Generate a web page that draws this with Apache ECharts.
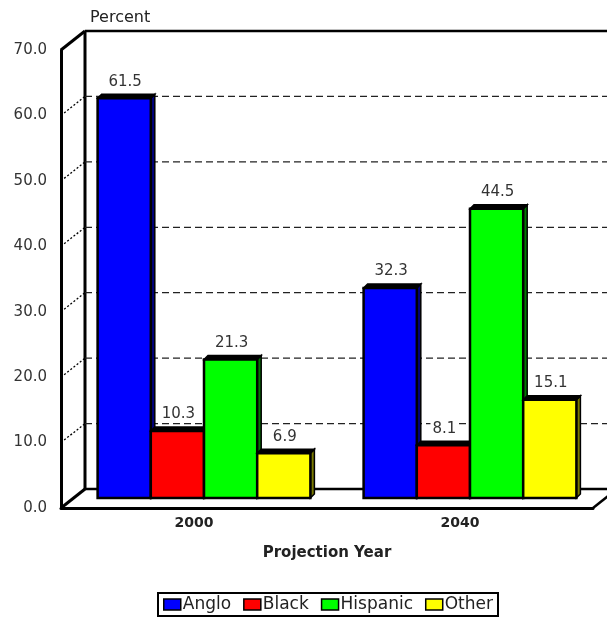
<!DOCTYPE html>
<html>
<head>
<meta charset="utf-8">
<script src="https://cdn.jsdelivr.net/npm/echarts@6/dist/echarts.min.js"></script>
<style>
  html, body { margin: 0; padding: 0; background: #fff; }
  #chart { width: 607px; height: 620px; }
</style>
</head>
<body>
<div id="chart"></div>
<script>
// Population share by group, projection years
const categories = ['2000', '2040'];
const anglo = [61.5, 32.3];
const black = [10.3, 8.1];
const hispanic = [21.3, 44.5];
const other = [6.9, 15.1];
const yTicks = [0, 10, 20, 30, 40, 50, 60, 70];

const seriesNames = ['Anglo', 'Black', 'Hispanic', 'Other'];
const seriesValues = [anglo, black, hispanic, other];
const seriesColors = ['#0000ff', '#ff0000', '#00ff00', '#ffff00'];
const sideColors = ['#00007a', '#7a0000', '#007a00', '#7a7a00'];

const FONT = 'DejaVu Sans, Liberation Sans, Arial, sans-serif';
// depth offset of the box (front plane -> back wall)
const DX = 24, DY = -19;
// depth of each bar
const BD = 4;

const chart = echarts.init(document.getElementById('chart'), null, { renderer: 'canvas' });

// Box frame: side wall connectors, back wall grid lines, floor
function renderFrame(params, api) {
  const cs = params.coordSys;
  const v = api.value(1);
  const y = api.coord([0, v])[1];
  const x0 = cs.x, xr = cs.x + cs.width;
  const edge = (v === yTicks[0] || v === yTicks[yTicks.length - 1]);
  const children = [
    { type: 'line', shape: { x1: x0, y1: y, x2: x0 + DX, y2: y + DY },
      style: { stroke: '#000', lineWidth: edge ? 3 : 1.3, lineDash: edge ? null : [2, 2] } },
    { type: 'line', shape: { x1: x0 + DX, y1: y + DY, x2: xr + DX + 40, y2: y + DY },
      style: { stroke: edge ? '#000' : '#222', lineWidth: edge ? 2.5 : 1.3, lineDash: edge ? null : [7, 4] } }
  ];
  if (v === yTicks[0]) {
    const yTop = api.coord([0, yTicks[yTicks.length - 1]])[1];
    children.push({ type: 'line', shape: { x1: x0 + DX, y1: y + DY, x2: x0 + DX, y2: yTop + DY },
      style: { stroke: '#000', lineWidth: 3 } });
    children.push({ type: 'line', shape: { x1: xr, y1: y, x2: xr + DX, y2: y + DY },
      style: { stroke: '#000', lineWidth: 2.5 } });
  }
  return { type: 'group', children };
}

// One extruded bar per data item; k = position within the group
function makeBarRenderer(k) {
  return function (params, api) {
    const cat = api.value(0), val = api.value(1);
    const top = api.coord([cat, val]);
    const base = api.coord([cat, 0]);
    const band = api.size([1, 0])[0];
    const w = band * 0.2;
    const left = top[0] - 2 * w + k * w;
    const yt = top[1], yb = base[1];
    return {
      type: 'group',
      children: [
        { type: 'polygon',
          shape: { points: [[left + w, yt], [left + w + BD, yt - BD], [left + w + BD, yb - BD], [left + w, yb]] },
          style: { fill: sideColors[k], stroke: '#000', lineWidth: 1.5 } },
        { type: 'polygon',
          shape: { points: [[left, yt], [left + BD, yt - BD], [left + w + BD, yt - BD], [left + w, yt]] },
          style: { fill: '#000', stroke: '#000', lineWidth: 1.5 } },
        { type: 'rect',
          shape: { x: left, y: yt, width: w, height: yb - yt },
          style: { fill: seriesColors[k], stroke: '#000', lineWidth: 2.5 } },
        { type: 'text',
          style: { text: val.toFixed(1), x: left + w / 2 + 1, y: yt - BD - 5,
                   align: 'center', verticalAlign: 'bottom',
                   fontFamily: FONT, fontSize: 15, fill: '#333',
                   backgroundColor: '#fff', padding: [0, 2] } }
      ]
    };
  };
}

const barSeries = seriesNames.map((name, k) => ({
  name,
  type: 'custom',
  xAxisIndex: 1,
  yAxisIndex: 1,
  z: 3 + k,
  itemStyle: { color: seriesColors[k], borderColor: '#000', borderWidth: 1.5 },
  renderItem: makeBarRenderer(k),
  data: seriesValues[k].map((v, i) => [i, v])
}));

chart.setOption({
  animation: false,
  backgroundColor: '#fff',
  title: {
    text: 'Percent',
    left: 85, top: 5,
    textStyle: { fontFamily: FONT, fontSize: 16, fontWeight: 'normal', color: '#222' }
  },
  legend: {
    data: seriesNames,
    left: 158, top: 593,
    orient: 'horizontal',
    icon: 'rect',
    itemWidth: 17, itemHeight: 11, itemGap: 12,
    borderColor: '#000', borderWidth: 2, borderRadius: 0,
    padding: [3, 5],
    itemStyle: { borderColor: '#000', borderWidth: 1.5 },
    textStyle: { fontFamily: FONT, fontSize: 17, color: '#222', padding: [0, 0, 0, -3] }
  },
  grid: [
    { left: 61, top: 50, width: 532, height: 458 },
    { left: 71, top: 43, width: 532, height: 455 }
  ],
  xAxis: [
    { type: 'category', gridIndex: 0, data: categories,
      axisLine: { lineStyle: { color: '#000', width: 3 } },
      axisTick: { show: false },
      axisLabel: { fontFamily: FONT, fontSize: 14, fontWeight: 'bold', color: '#222', margin: 8 },
      name: 'Projection Year', nameLocation: 'middle', nameGap: 38,
      nameTextStyle: { fontFamily: FONT, fontSize: 15, fontWeight: 'bold', color: '#222' } },
    { type: 'category', gridIndex: 1, data: categories, show: false }
  ],
  yAxis: [
    { type: 'value', gridIndex: 0, min: 0, max: 70, interval: 10,
      axisLine: { show: true, lineStyle: { color: '#000', width: 3 } },
      axisTick: { show: false },
      splitLine: { show: false },
      axisLabel: { formatter: v => v.toFixed(1), fontFamily: FONT, fontSize: 15, color: '#333', margin: 14 } },
    { type: 'value', gridIndex: 1, min: 0, max: 70, interval: 10, show: false,
      splitLine: { show: false } }
  ],
  series: [
    {
      name: 'frame',
      type: 'custom',
      xAxisIndex: 0, yAxisIndex: 0,
      z: 1,
      silent: true,
      renderItem: renderFrame,
      data: yTicks.map(v => [0, v])
    }
  ].concat(barSeries)
});
</script>
</body>
</html>
